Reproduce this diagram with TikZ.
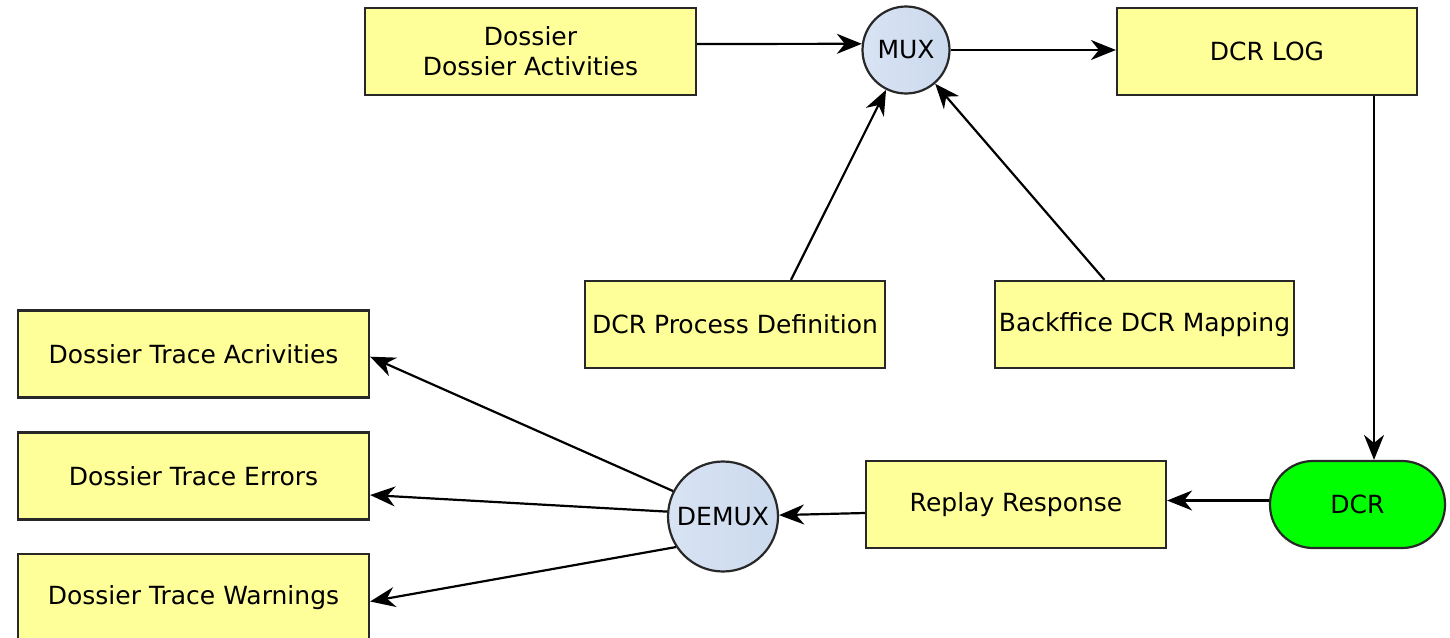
\documentclass[tikz,border=0pt]{standalone}
\usepackage{fontspec}
\setmainfont{DejaVu Sans}
\usetikzlibrary{arrows.meta,shapes.geometric}
\definecolor{boxyellow}{RGB}{255,255,153}
\definecolor{circbluel}{RGB}{216,227,243}
\definecolor{circbluer}{RGB}{204,218,238}
\definecolor{dcrgreen}{RGB}{0,255,0}
\definecolor{edge}{RGB}{40,40,40}
\tikzset{
  ybox/.style={draw=edge, line width=2.2pt, fill=boxyellow, rectangle, minimum height=87pt, inner sep=0pt, align=center, font=\fontsize{25}{30}\selectfont},
  mcirc/.style={draw=edge, line width=2.2pt, circle, inner sep=0pt, left color=circbluel, right color=circbluer, font=\fontsize{25}{30}\selectfont},
  conn/.style={line width=2.2pt, draw=black, -{Stealth[length=25pt,width=20pt,inset=8pt]}}
}
\begin{document}
\begin{tikzpicture}[x=1pt,y=-1pt]
\useasboundingbox (0,0) rectangle (1450,637);
\node[ybox, minimum width=331pt] (dossier) at (530.5,51.5) {Dossier\\Dossier Activities};
\node[mcirc, minimum size=87pt] (mux) at (906,50) {MUX};
\node[ybox, minimum width=300pt] (dcrlog) at (1267,51.5) {DCR LOG};
\node[ybox, minimum width=300pt] (proc) at (735,324.5) {DCR Process Definition};
\node[ybox, minimum width=299pt] (back) at (1144.5,324.5) {Backffice DCR Mapping};
\node[ybox, minimum width=351pt] (tact) at (193.5,354) {Dossier Trace Acrivities};
\node[ybox, minimum width=351pt] (terr) at (193.5,476) {Dossier Trace Errors};
\node[ybox, minimum width=351pt] (twarn) at (193.5,597.5) {Dossier Trace Warnings};
\node[mcirc, minimum size=110pt] (demux) at (723,516.5) {DEMUX};
\node[ybox, minimum width=300pt] (replay) at (1016,504.5) {Replay Response};
\node[draw=edge, line width=2.2pt, fill=dcrgreen, rectangle, rounded corners=43pt, minimum width=175pt, minimum height=87pt, inner sep=0pt, font=\fontsize{25}{30}\selectfont] (dcr) at (1357.5,504.5) {DCR};

\draw[conn] ([yshift=7.5pt]dossier.east) -- (mux.172);
\draw[conn] (mux.east) -- (mux.east -| dcrlog.west);
\draw[conn] ([xshift=56pt]proc.north) -- (mux);
\draw[conn] ([xshift=-40pt]back.north) -- (mux);
\draw[conn] ([xshift=107pt]dcrlog.south) coordinate (dl) -- (dl |- dcr.north);
\draw[conn] ([yshift=4pt]dcr.west) -- ([yshift=4pt]replay.east);
\draw[conn] ([yshift=-8.5pt]replay.west) -- (demux);
\draw[conn] (demux.153) -- ([yshift=-2.7pt]tact.east);
\draw[conn] (demux.175) -- ([yshift=-19pt]terr.east);
\draw[conn] (demux.213) -- ([yshift=-4pt]twarn.east);
\end{tikzpicture}
\end{document}
